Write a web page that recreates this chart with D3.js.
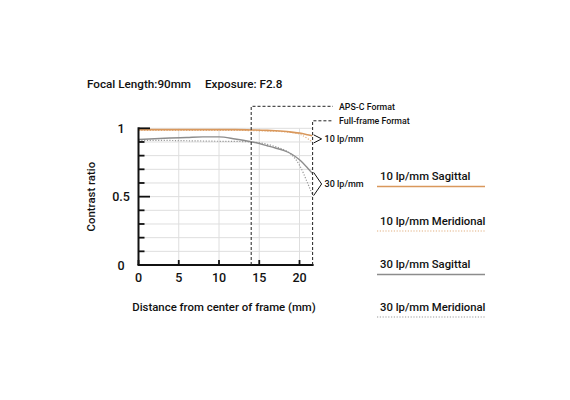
<!DOCTYPE html>
<html>
<head>
<meta charset="utf-8">
<script src="https://cdn.jsdelivr.net/npm/d3@7"></script>
<style>
    body { margin: 0; background: #fff; }
    svg text { font-family: Roboto, "Liberation Sans", Arial, sans-serif; font-weight: 500; fill: #111; }
</style>
</head>
<body>
<svg id="chart" width="570" height="400"></svg>
<script>
// distance from center (mm)
const distance = [0, 2, 4, 6, 8, 10, 12, 14, 16, 17, 18, 19, 20, 21, 21.6];

const sag10 = [0.99, 0.99, 0.99, 0.99, 0.99, 0.99, 0.99, 0.988, 0.985, 0.982, 0.978, 0.972, 0.965, 0.953, 0.945];
const mer10 = [0.985, 0.985, 0.985, 0.985, 0.985, 0.985, 0.985, 0.983, 0.98, 0.978, 0.975, 0.97, 0.958, 0.925, 0.9];
const sag30 = [0.918, 0.924, 0.929, 0.933, 0.937, 0.937, 0.922, 0.902, 0.872, 0.856, 0.838, 0.812, 0.77, 0.71, 0.67];
const mer30 = [0.912, 0.912, 0.911, 0.909, 0.907, 0.905, 0.904, 0.9, 0.883, 0.866, 0.845, 0.808, 0.73, 0.6, 0.515];

const xTicks = [0, 5, 10, 15, 20];
const yTickLabels = [0, 0.5, 1];
const apscEdge = 14;
const fullFrameEdge = 21.63;

const legendLabels = ['10 lp/mm Sagittal', '10 lp/mm Meridional', '30 lp/mm Sagittal', '30 lp/mm Meridional'];

const orange = '#d9985c';
const orangeLight = '#e2b080';
const grey = '#8c8c8c';
const greyDot = '#999';

const series = [
    { name: legendLabels[0], values: sag10, color: orange, dash: null, width: 1.6 },
    { name: legendLabels[1], values: mer10, color: orangeLight, dash: '1.2,1.6', width: 1.2 },
    { name: legendLabels[2], values: sag30, color: grey, dash: null, width: 1.4 },
    { name: legendLabels[3], values: mer30, color: greyDot, dash: '1.2,1.6', width: 1.2 }
];

const svg = d3.select('#chart');

const x = d3.scaleLinear().domain([0, 20]).range([138.5, 299.5]);
const y = d3.scaleLinear().domain([0, 1]).range([265, 128.3]);

const xEnd = x(fullFrameEdge);

// grid
const grid = svg.append('g');
grid.selectAll('.hg')
    .data(d3.range(1, 11).map(i => i / 10))
    .join('line')
    .attr('x1', x(0)).attr('x2', xEnd)
    .attr('y1', d => y(d)).attr('y2', d => y(d))
    .attr('stroke', '#dedede').attr('stroke-width', 1);
grid.selectAll('.vg')
    .data(xTicks.slice(1))
    .join('line')
    .attr('x1', d => x(d)).attr('x2', d => x(d))
    .attr('y1', y(0)).attr('y2', y(1))
    .attr('stroke', '#dedede').attr('stroke-width', 1);

// curves
const line = d3.line()
    .x((d, i) => x(distance[i]))
    .y(d => y(d))
    .curve(d3.curveMonotoneX);

[series[3], series[2], series[1], series[0]].forEach(s => {
    svg.append('path')
        .datum(s.values)
        .attr('fill', 'none')
        .attr('stroke', s.color)
        .attr('stroke-width', s.width)
        .attr('stroke-dasharray', s.dash)
        .attr('d', line);
});

// axes
const yAxis = svg.append('g').attr('transform', `translate(${x(0)},0)`);
yAxis.append('line')
    .attr('x1', 0).attr('x2', 0)
    .attr('y1', y(0)).attr('y2', y(1) - 1)
    .attr('stroke', '#111').attr('stroke-width', 2);
yAxis.selectAll('.tk')
    .data(d3.range(0, 11).map(i => i / 10))
    .join('line')
    .attr('x1', 0)
    .attr('x2', d => (Math.abs(d - 0.5) < 1e-6 || d === 1) ? 11.5 : 6)
    .attr('y1', d => y(d)).attr('y2', d => y(d))
    .attr('stroke', '#111').attr('stroke-width', 1.8);

svg.selectAll('.ylab')
    .data(yTickLabels)
    .join('text')
    .attr('x', 121)
    .attr('y', d => y(d) + 4.5)
    .attr('text-anchor', 'middle')
    .style('font-size', '12.5px')
    .text(d => d);

const xAxis = svg.append('g').attr('transform', `translate(0,${y(0)})`);
xAxis.append('line')
    .attr('x1', x(0) - 1).attr('x2', xEnd + 1)
    .attr('y1', 0).attr('y2', 0)
    .attr('stroke', '#111').attr('stroke-width', 2);
xAxis.selectAll('.tk')
    .data(xTicks)
    .join('line')
    .attr('x1', d => x(d)).attr('x2', d => x(d))
    .attr('y1', 0).attr('y2', -5)
    .attr('stroke', '#111').attr('stroke-width', 1.8);
xAxis.selectAll('.lab')
    .data(xTicks)
    .join('text')
    .attr('x', d => x(d))
    .attr('y', 17)
    .attr('text-anchor', 'middle')
    .style('font-size', '12.5px')
    .text(d => d);

// axis titles
svg.append('text')
    .attr('x', 224).attr('y', 311)
    .attr('text-anchor', 'middle')
    .style('font-size', '11.4px')
    .text('Distance from center of frame (mm)');

svg.append('text')
    .attr('transform', `translate(95,${y(0.5)}) rotate(-90)`)
    .attr('text-anchor', 'middle')
    .style('font-size', '11.4px')
    .text('Contrast ratio');

// header
svg.append('text').attr('x', 87).attr('y', 88).style('font-size', '11.7px').text('Focal Length:90mm');
svg.append('text').attr('x', 205).attr('y', 88).style('font-size', '11.7px').text('Exposure: F2.8');

// format boundaries
function formatMarker(xVal, top, label) {
    const g = svg.append('g');
    g.append('path')
        .attr('d', `M${x(xVal)},${y(0)} V${top} H333`)
        .attr('fill', 'none')
        .attr('stroke', '#222')
        .attr('stroke-width', 1)
        .attr('stroke-dasharray', '3,2');
    g.append('text')
        .attr('x', 339).attr('y', top + 3.3)
        .style('font-size', '8.8px')
        .text(label);
}
formatMarker(apscEdge, y(1) - 22, 'APS-C Format');
formatMarker(fullFrameEdge, y(1) - 7.5, 'Full-frame Format');

// brackets
function bracket(topVal, botVal, label) {
    const y1 = y(topVal) - 1, y2 = y(botVal) + 1;
    const mid = (y1 + y2) / 2;
    svg.append('path')
        .attr('d', `M${xEnd + 1},${y1} L${xEnd + 9},${mid} L${xEnd + 1},${y2}`)
        .attr('fill', 'none').attr('stroke', '#111').attr('stroke-width', 1);
    svg.append('text')
        .attr('x', xEnd + 12).attr('y', mid + 3.2)
        .style('font-size', '9px')
        .text(label);
}
bracket(sag10[sag10.length - 1], mer10[mer10.length - 1], '10 lp/mm');
bracket(sag30[sag30.length - 1], mer30[mer30.length - 1], '30 lp/mm');

// legend
const legend = svg.append('g');
const legendTop = [180, 224.5, 268, 310.5];
series.forEach((s, i) => {
    legend.append('text')
        .attr('x', 380).attr('y', legendTop[i])
        .style('font-size', '11.3px')
        .text(s.name);
    legend.append('line')
        .attr('x1', 377).attr('x2', 485)
        .attr('y1', legendTop[i] + 6.5).attr('y2', legendTop[i] + 6.5)
        .attr('stroke', s.color)
        .attr('stroke-width', s.dash ? 1.2 : 1.4)
        .attr('stroke-dasharray', s.dash);
});
</script>
</body>
</html>
